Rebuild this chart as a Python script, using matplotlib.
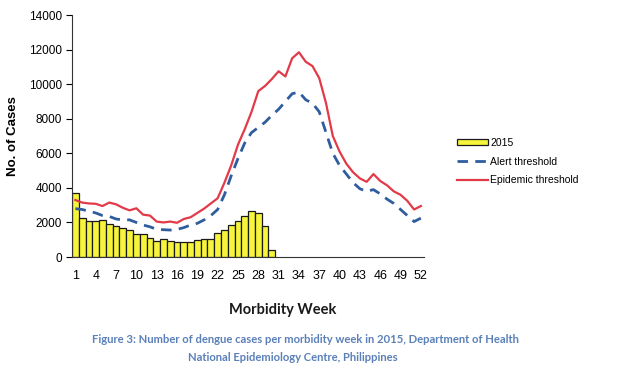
import numpy as np
import matplotlib
matplotlib.use('Agg')
import matplotlib.pyplot as plt
from matplotlib.patches import Patch
from matplotlib.lines import Line2D

# 주차 (1~52)
weeks = list(range(1, 53))

# 2015년 주별 환자 수 (1~30주)
cases_2015 = [3730, 2250, 2060, 2110, 2150, 1900, 1770, 1650, 1580, 1330,
              1330, 1100, 900, 1040, 900, 850, 880, 880, 960, 1040,
              1060, 1390, 1580, 1850, 2110, 2370, 2680, 2560, 1770, 380]

# 경보 기준선
alert = [2800, 2750, 2650, 2550, 2400, 2350, 2200, 2150, 2150, 2000,
         1850, 1750, 1600, 1580, 1560, 1600, 1700, 1850, 1950, 2150,
         2400, 2750, 3600, 4700, 5700, 6600, 7200, 7500, 7800, 8200,
         8550, 9000, 9450, 9550, 9100, 8900, 8400, 7200, 6000, 5300,
         4800, 4300, 3950, 3800, 3900, 3650, 3350, 3100, 2750, 2400,
         2050, 2250]

# 유행 기준선
epidemic = [3300, 3150, 3100, 3080, 2950, 3150, 3050, 2850, 2700, 2820,
            2450, 2400, 2050, 2000, 2050, 1980, 2200, 2300, 2550, 2800,
            3100, 3400, 4300, 5300, 6500, 7400, 8400, 9600, 9900, 10300,
            10750, 10450, 11500, 11850, 11300, 11050, 10350, 8900, 7000, 6100,
            5400, 4900, 4550, 4350, 4800, 4400, 4150, 3800, 3600, 3250,
            2750, 2950]

xtick_labels = [1, 4, 7, 10, 13, 16, 19, 22, 25, 28, 31, 34, 37, 40, 43, 46, 49, 52]
ytick_values = [0, 2000, 4000, 6000, 8000, 10000, 12000, 14000]

plt.rcParams['font.family'] = ['Liberation Sans', 'DejaVu Sans']

fig = plt.figure(figsize=(6.18, 3.84), dpi=100)
ax = fig.add_axes([0.1165, 0.3307, 0.570, 0.630])

bar_weeks = weeks[:len(cases_2015)]
ax.bar(bar_weeks, cases_2015, width=1.0, color='#f6f53c', edgecolor='#1a1a1a', linewidth=0.9, zorder=2)
ax.plot(weeks, alert, color='#2f5d9e', linewidth=2.0, linestyle=(0, (3.8, 2.6)), zorder=3)
ax.plot(weeks, epidemic, color='#e23a48', linewidth=1.6, zorder=3)

ax.set_xlim(0.5, 52.5)
ax.set_ylim(0, 14000)
ax.set_xticks(xtick_labels)
ax.set_xticklabels([str(v) for v in xtick_labels], fontsize=9)
ax.set_yticks(ytick_values)
ax.set_yticklabels([str(v) for v in ytick_values], fontsize=8.5)
ax.tick_params(axis='x', length=0, pad=9)
ax.tick_params(axis='y', length=4, width=0.8, pad=3)

for side in ['top', 'right']:
    ax.spines[side].set_visible(False)
ax.spines['left'].set_color('#333333')
ax.spines['bottom'].set_color('#333333')

fig.text(0.021, 0.646, 'No. of Cases', rotation=90, ha='center', va='center',
         fontsize=9.5, fontweight='bold')

fig.text(0.457, 0.193, 'Morbidity Week', ha='center', va='center',
         fontsize=10.5, fontweight='bold', family=['Lato', 'DejaVu Sans'], color='#1a1a1a')
fig.text(0.494, 0.115, 'Figure 3: Number of dengue cases per morbidity week in 2015, Department of Health',
         ha='center', va='center', fontsize=8.1, fontweight='bold',
         family=['Lato', 'DejaVu Sans'], color='#5b80b8')
fig.text(0.474, 0.068, 'National Epidemiology Centre, Philippines',
         ha='center', va='center', fontsize=8.1, fontweight='bold',
         family=['Lato', 'DejaVu Sans'], color='#5b80b8')

handles = [
    Patch(facecolor='#f6f53c', edgecolor='#1a1a1a', linewidth=0.9),
    Line2D([0], [0], color='#2f5d9e', linewidth=2.0, linestyle=(0, (3.8, 2.6))),
    Line2D([0], [0], color='#e23a48', linewidth=1.6),
]
fig.legend(handles, ['2015', 'Alert threshold', 'Epidemic threshold'],
           loc='upper left', bbox_to_anchor=(0.731, 0.655), frameon=False,
           fontsize=7.5, handlelength=3.0, handleheight=0.5, handletextpad=0.2,
           labelspacing=0.85, borderpad=0)

fig.savefig('out.png', dpi=100)
